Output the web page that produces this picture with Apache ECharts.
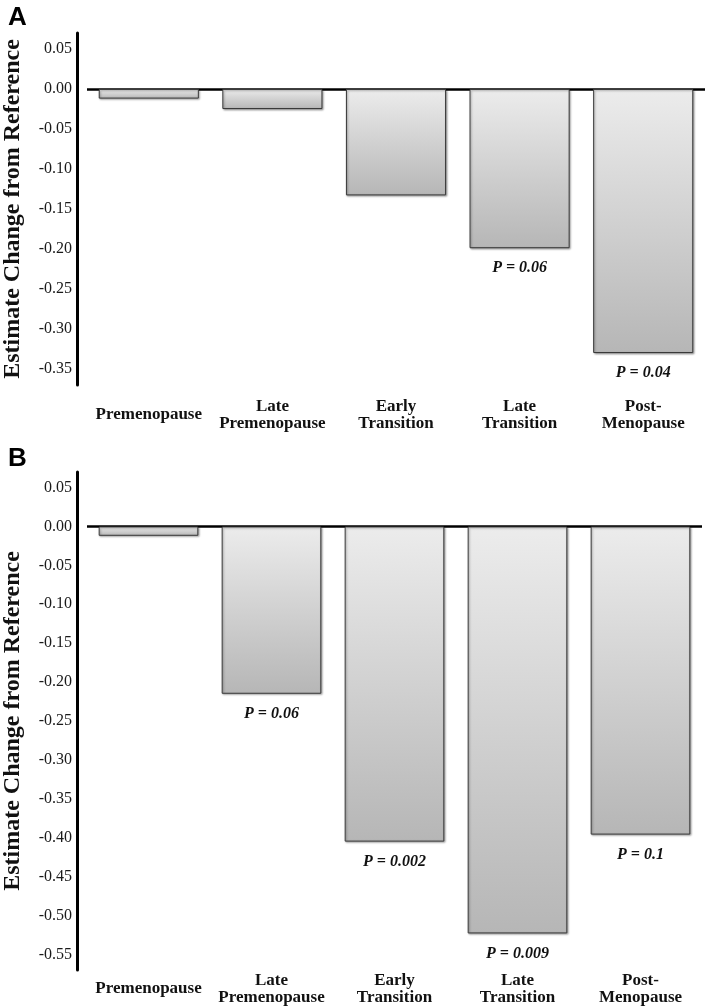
<!DOCTYPE html>
<html>
<head>
<meta charset="utf-8">
<script src="https://cdn.jsdelivr.net/npm/echarts@6/dist/echarts.min.js"></script>
<style>
html,body{margin:0;padding:0;background:#fff;}
#chart{width:714px;height:1008px;}
</style>
</head>
<body>
<div id="chart"></div>
<script>
// ---- data ----
const categories = ['Premenopause', 'Late\nPremenopause', 'Early\nTransition', 'Late\nTransition', 'Post-\nMenopause'];
const valuesA = [-0.012, -0.025, -0.133, -0.199, -0.330];
const valuesB = [-0.012, -0.215, -0.405, -0.523, -0.396];
const pLabelsA = ['', '', '', 'P = 0.06', 'P = 0.04'];
const pLabelsB = ['', 'P = 0.06', 'P = 0.002', 'P = 0.009', 'P = 0.1'];
const ticksA = ['0.05', '0.00', '-0.05', '-0.10', '-0.15', '-0.20', '-0.25', '-0.30', '-0.35'];
const ticksB = ['0.05', '0.00', '-0.05', '-0.10', '-0.15', '-0.20', '-0.25', '-0.30', '-0.35', '-0.40', '-0.45', '-0.50', '-0.55'];
const yTitle = 'Estimate Change from Reference';

const serif = '"Liberation Serif", "DejaVu Serif", serif';

function fmt(v) {
  const r = Math.round(v * 100) / 100;
  if (Math.abs(r) < 1e-9) return '0.00';
  return r.toFixed(2);
}

function yAxis(idx, min, max, ticks) {
  return {
    type: 'value', gridIndex: idx, min: min, max: max, interval: 0.01,
    offset: 10,
    axisLine: { show: true, lineStyle: { color: '#000', width: 3 } },
    axisTick: { show: false },
    splitLine: { show: false },
    axisLabel: {
      margin: 5, fontFamily: serif, fontSize: 16, color: '#1a1a1a',
      formatter: function (v) { const s = fmt(v); return ticks.indexOf(s) >= 0 ? s : ''; }
    },
    name: yTitle, nameLocation: 'middle', nameGap: 52,
    nameTextStyle: { fontFamily: serif, fontWeight: 'bold', fontSize: 24, color: '#111' }
  };
}

function xAxis(idx, margin) {
  return {
    type: 'category', gridIndex: idx, data: categories, position: 'bottom',
    axisLine: { show: false, onZero: false },
    axisTick: { show: false },
    axisLabel: {
      interval: 0, margin: margin, verticalAlign: 'middle', lineHeight: 17,
      fontFamily: serif, fontWeight: 'bold', fontSize: 17, color: '#111'
    }
  };
}

const barGradient = new echarts.graphic.LinearGradient(0, 0, 0, 1, [
  { offset: 0, color: '#ececec' },
  { offset: 1, color: '#b6b6b6' }
]);

function barSeries(idx, values, plabels) {
  return {
    type: 'bar', xAxisIndex: idx, yAxisIndex: idx, barWidth: '81%',
    data: values.map(function (v, i) {
      return { value: v, label: { show: plabels[i] !== '', formatter: plabels[i] } };
    }),
    itemStyle: {
      color: barGradient, borderColor: '#3a3a3a', borderWidth: 1,
      shadowColor: 'rgba(0,0,0,0.35)', shadowBlur: 2, shadowOffsetX: 1, shadowOffsetY: 1
    },
    label: {
      position: 'bottom', distance: 12,
      fontFamily: serif, fontWeight: 'bold', fontStyle: 'italic', fontSize: 16, color: '#111'
    },
    markLine: {
      silent: true, symbol: 'none', z: 1,
      label: { show: false },
      lineStyle: { color: '#000', width: 2.5, type: 'solid' },
      data: [{ yAxis: 0 }]
    }
  };
}

const chart = echarts.init(document.getElementById('chart'), null, { renderer: 'canvas' });
chart.setOption({
  animation: false,
  backgroundColor: '#fff',
  title: [
    { text: 'A', left: 3, top: 0, textStyle: { fontFamily: '"Liberation Sans", Arial, sans-serif', fontWeight: 'bold', fontSize: 26, color: '#000' } },
    { text: 'B', left: 3, top: 441, textStyle: { fontFamily: '"Liberation Sans", Arial, sans-serif', fontWeight: 'bold', fontSize: 26, color: '#000' } }
  ],
  grid: [
    { left: 87, right: 9, top: 33, height: 352, containLabel: false, outerBoundsMode: 'none' },
    { left: 87, right: 12, top: 472, height: 498, containLabel: false, outerBoundsMode: 'none' }
  ],
  xAxis: [xAxis(0, 30), xAxis(1, 19)],
  yAxis: [yAxis(0, -0.37, 0.07, ticksA), yAxis(1, -0.57, 0.07, ticksB)],
  series: [barSeries(0, valuesA, pLabelsA), barSeries(1, valuesB, pLabelsB)]
});
</script>
</body>
</html>
